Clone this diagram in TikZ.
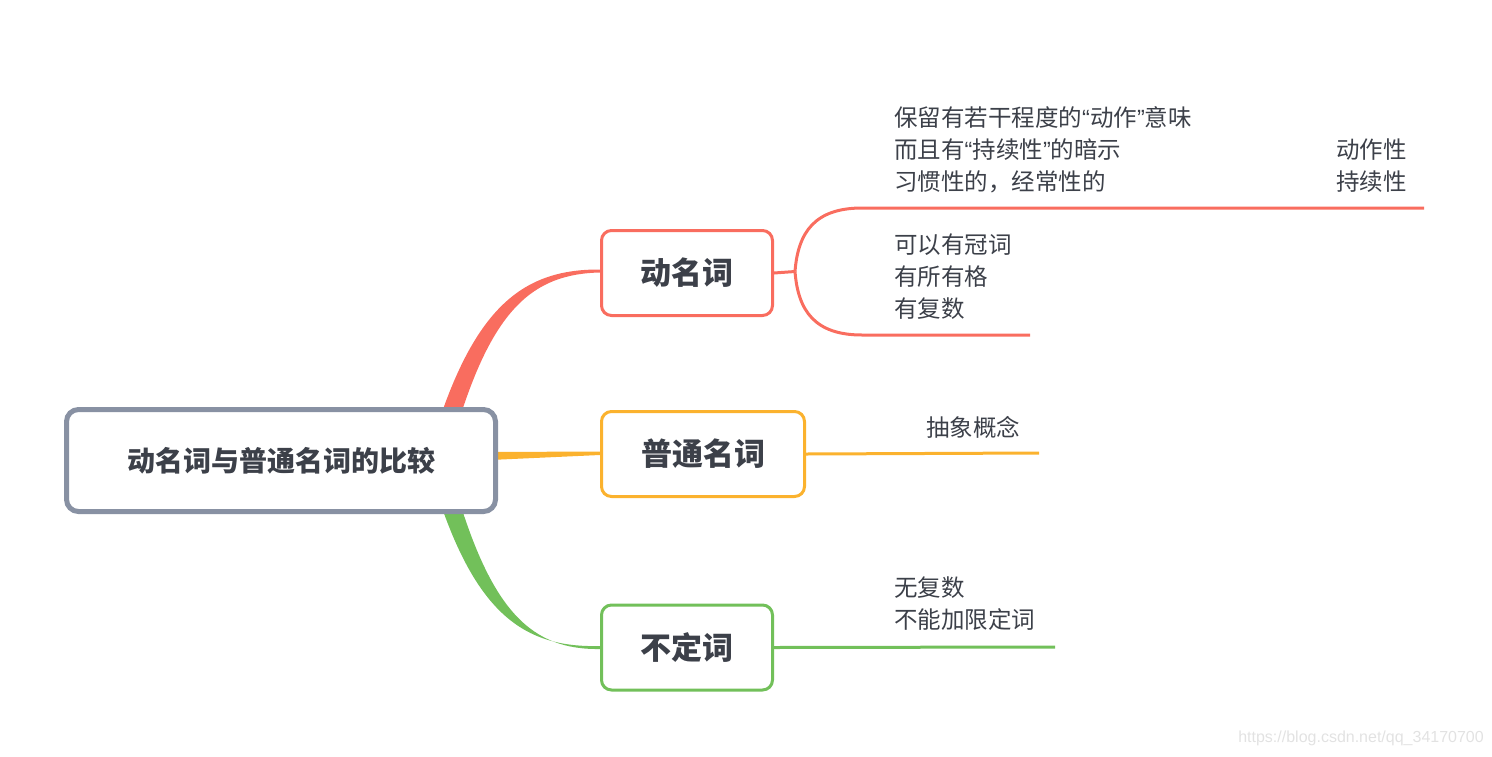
\documentclass[tikz,border=0pt]{standalone}
\usepackage{fontspec}
\newfontfamily\cjk{Noto Sans CJK SC}
\newfontfamily\lat{Liberation Sans}
\usetikzlibrary{calc}
\definecolor{txt}{HTML}{3C4049}
\definecolor{cgray}{HTML}{8891A3}
\definecolor{cred}{HTML}{F96D5F}
\definecolor{cyel}{HTML}{FBB22E}
\definecolor{cgrn}{HTML}{72C05A}
\definecolor{wm}{HTML}{E2E2E2}
\newcommand{\q}[1]{{\lat #1}}
\tikzset{
  rootbox/.style={draw=cgray, line width=5pt, fill=white, rounded corners=12pt,
    minimum width=429pt, minimum height=102pt, inner sep=0pt,
    font=\cjk\bfseries\fontsize{28}{34}\selectfont, text=txt},
  subbox/.style={line width=3pt, fill=white, rounded corners=10pt,
    minimum height=85pt, inner sep=0pt,
    font=\cjk\bfseries\fontsize{31}{36}\selectfont, text=txt},
  leaf/.style={anchor=west, inner sep=0pt, align=left, text=txt,
    font=\cjk\fontsize{23.5}{32}\selectfont},
  twig/.style={line width=3pt, line cap=butt},
}
\begin{document}
\begin{tikzpicture}[x=1pt,y=-1pt]
\useasboundingbox (0,0) rectangle (1492,756);
% tapered main branches (drawn under the nodes)
\fill[cred] (436,430) .. controls (476,305) and (525,269) .. (600,269.5)
  -- (600,272.5) .. controls (532,274) and (492,310) .. (456,430) -- cycle;
\fill[cgrn] (436,490) .. controls (476,615) and (525,648) .. (600,646)
  -- (600,649) .. controls (532,650) and (492,612) .. (456,490) -- cycle;
\fill[cyel] (490,452) -- (600,451.5) -- (600,455) -- (490,460) -- cycle;

% nodes
\node[rootbox] (root) at (281,460.5) {动名词与普通名词的比较};
\node[subbox, draw=cred, minimum width=171pt] (dmc) at (687,273) {动名词};
\node[subbox, draw=cyel, minimum width=203pt] (ptm) at (703,454) {普通名词};
\node[subbox, draw=cgrn, minimum width=171pt] (bdc) at (687,647.5) {不定词};

% leaf texts
\node[leaf] (t1) at (894,150) {保留有若干程度的\q{“}动作\q{”}意味\\而且有\q{“}持续性\q{”}的暗示\\习惯性的，经常性的};
\node[leaf] (t2) at (1336,166) {动作性\\持续性};
\node[leaf] (t3) at (894,277) {可以有冠词\\有所有格\\有复数};
\node[leaf] (t4) at (926,427) {抽象概念};
\node[leaf] (t5) at (894,604) {无复数\\不能加限定词};

% sub branches
\coordinate (j1) at (795,271.5);
\coordinate (e1) at (1424,208);
\coordinate (e2) at (1030,335);
\coordinate (e3) at (1039,453);
\coordinate (e4) at (1055,647);
\draw[twig, cred] (dmc.east) -- (j1);
\draw[twig, cred] (j1) .. controls (798,232) and (815,208) .. (862,208) -- (e1);
\draw[twig, cred] (j1) .. controls (798,311) and (815,335) .. (862,335) -- (e2);
\draw[twig, cyel] (ptm.east) -- (e3);
\draw[twig, cgrn] (bdc.east) -- (e4);

% watermark
\node[anchor=east, inner sep=0pt, text=wm, font=\lat\fontsize{16}{19}\selectfont] (wmk) at (1484,738) {https://blog.csdn.net/qq\_34170700};
\end{tikzpicture}
\end{document}
